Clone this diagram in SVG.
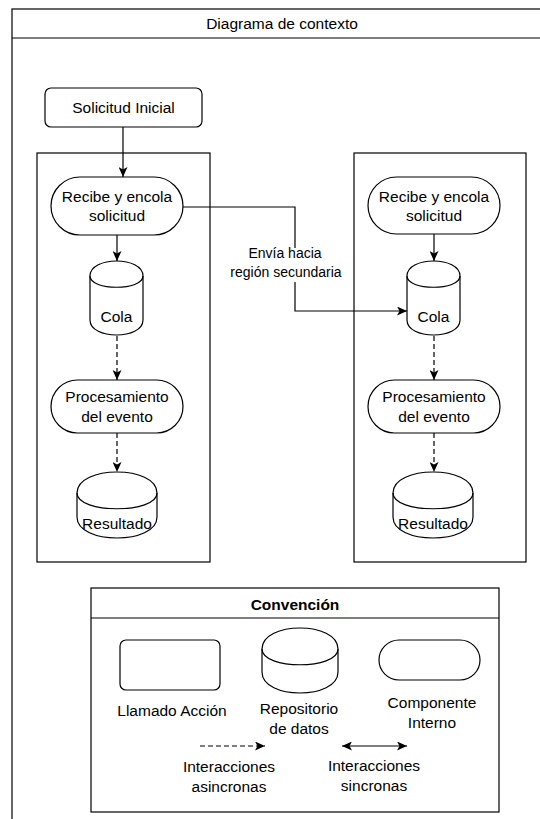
<svg xmlns="http://www.w3.org/2000/svg" width="540" height="819" viewBox="0 0 540 819">
  <style>
    .shape { fill: #ffffff; stroke: #000000; stroke-width: 1.2; }
    .frame { fill: none; stroke: #000000; stroke-width: 1.2; }
    .edge { fill: none; stroke: #000000; stroke-width: 1.2; }
    .dash { stroke-dasharray: 5 3; }
    text { font-family: "Liberation Sans", Arial, sans-serif; font-size: 15.5px; fill: #000000; text-anchor: middle; }
    .bold { font-weight: bold; }
    .small { font-size: 14px; }
  </style>
  <defs>
    <marker id="arrow" markerUnits="userSpaceOnUse" markerWidth="10" markerHeight="9" refX="10" refY="4.5" orient="auto-start-reverse">
      <path d="M0,0 L10,4.5 L0,9 L2.5,4.5 Z" fill="#000000"/>
    </marker>
  </defs>

  <rect width="540" height="819" fill="#ffffff"/>

  <!-- outer frame with title bar -->
  <g id="frame">
    <rect class="frame" x="12" y="9" width="600" height="900"/>
    <line class="frame" x1="12" y1="38" x2="540" y2="38"/>
    <text x="282" y="29">Diagrama de contexto</text>
  </g>

  <!-- regions -->
  <g id="region-primary">
    <rect class="frame" x="37" y="153" width="173" height="409"/>
  </g>
  <g id="region-secondary">
    <rect class="frame" x="354" y="153" width="172" height="409"/>
  </g>

  <!-- connectors -->
  <g id="connectors">
    <line class="edge" x1="123" y1="127" x2="123" y2="177" marker-end="url(#arrow)"/>
    <line class="edge" x1="117" y1="235" x2="117" y2="261" marker-end="url(#arrow)"/>
    <line class="edge dash" x1="117" y1="336" x2="117" y2="380" marker-end="url(#arrow)"/>
    <line class="edge dash" x1="117" y1="433" x2="117" y2="472" marker-end="url(#arrow)"/>
    <line class="edge" x1="434" y1="234" x2="434" y2="261" marker-end="url(#arrow)"/>
    <line class="edge dash" x1="434" y1="336" x2="434" y2="380" marker-end="url(#arrow)"/>
    <line class="edge dash" x1="434" y1="433" x2="434" y2="472" marker-end="url(#arrow)"/>
    <polyline class="edge" points="183,207 295,207 295,311 407,311" marker-end="url(#arrow)"/>
    <g id="label-envia">
      <rect x="228" y="248" width="116" height="34" fill="#ffffff"/>
      <text class="small" x="285" y="258">Envía hacia</text>
      <text class="small" x="286" y="277">región secundaria</text>
    </g>
  </g>

  <!-- primary region nodes -->
  <g id="solicitud-inicial">
    <rect class="shape" x="45" y="88" width="157" height="39" rx="6"/>
    <text x="123.5" y="113">Solicitud Inicial</text>
  </g>
  <g id="recibe-1">
    <rect class="shape" x="51" y="177" width="132" height="58" rx="29"/>
    <text x="117" y="202">Recibe y encola</text>
    <text x="117" y="221">solicitud</text>
  </g>
  <g id="cola-1">
    <path class="shape" d="M90,276 C90,256 143,256 143,276 L143,320 C143,340 90,340 90,320 Z"/>
    <path class="edge" d="M90,276 C90,291 143,291 143,276"/>
    <text x="116.5" y="322">Cola</text>
  </g>
  <g id="procesamiento-1">
    <rect class="shape" x="51" y="380" width="132" height="53" rx="26.5"/>
    <text x="117" y="402">Procesamiento</text>
    <text x="117" y="422">del evento</text>
  </g>
  <g id="resultado-1">
    <path class="shape" d="M77,493 C77,465 157,465 157,493 L157,517 C157,545 77,545 77,517 Z"/>
    <path class="edge" d="M77,493 C77,514 157,514 157,493"/>
    <text x="117" y="529">Resultado</text>
  </g>

  <!-- secondary region nodes -->
  <g id="recibe-2">
    <rect class="shape" x="368" y="177" width="132" height="57" rx="28.5"/>
    <text x="434" y="202">Recibe y encola</text>
    <text x="434" y="221">solicitud</text>
  </g>
  <g id="cola-2">
    <path class="shape" d="M407,276 C407,256 460,256 460,276 L460,320 C460,340 407,340 407,320 Z"/>
    <path class="edge" d="M407,276 C407,291 460,291 460,276"/>
    <text x="433.5" y="322">Cola</text>
  </g>
  <g id="procesamiento-2">
    <rect class="shape" x="368" y="380" width="132" height="53" rx="26.5"/>
    <text x="434" y="402">Procesamiento</text>
    <text x="434" y="422">del evento</text>
  </g>
  <g id="resultado-2">
    <path class="shape" d="M393,493 C393,465 473,465 473,493 L473,517 C473,545 393,545 393,517 Z"/>
    <path class="edge" d="M393,493 C393,514 473,514 473,493"/>
    <text x="433" y="529">Resultado</text>
  </g>

  <!-- legend -->
  <g id="convencion">
    <rect class="frame" x="91" y="588" width="408" height="224"/>
    <line class="frame" x1="91" y1="618" x2="499" y2="618"/>
    <text class="bold" x="295" y="610">Convención</text>

    <rect class="shape" x="120" y="640" width="100" height="50" rx="6"/>
    <text x="172" y="716">Llamado Acción</text>

    <path class="shape" d="M262,649 C262,621 338,621 338,649 L338,672 C338,700 262,700 262,672 Z"/>
    <path class="edge" d="M262,649 C262,670 338,670 338,649"/>
    <text x="299" y="714">Repositorio</text>
    <text x="299" y="734">de datos</text>

    <rect class="shape" x="379" y="640" width="101" height="40" rx="20"/>
    <text x="432" y="708">Componente</text>
    <text x="432" y="728">Interno</text>

    <line class="edge dash" x1="200" y1="746" x2="265" y2="746" marker-end="url(#arrow)"/>
    <text x="229" y="772">Interacciones</text>
    <text x="229" y="792">asincronas</text>

    <line class="edge" x1="342" y1="746" x2="407" y2="746" marker-start="url(#arrow)" marker-end="url(#arrow)"/>
    <text x="374" y="771">Interacciones</text>
    <text x="374" y="791">sincronas</text>
  </g>
</svg>
